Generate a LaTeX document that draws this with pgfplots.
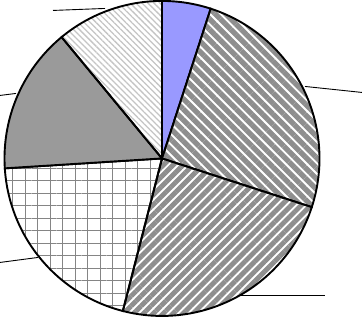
\documentclass[border=0pt]{standalone}
\usepackage{pgfplots}
\pgfplotsset{compat=1.18}
\usetikzlibrary{patterns.meta}
\definecolor{sliceblue}{HTML}{9999FF}
\definecolor{stripegray}{HTML}{8E8E8E}
\definecolor{solidgray}{HTML}{9A9A9A}
\definecolor{gridgray}{HTML}{858585}
\definecolor{lightgray2}{HTML}{C4C4C4}
% shares in percent, clockwise from 12 o'clock
\def\sA{5}\def\sB{25}\def\sC{24}\def\sD{20}\def\sE{15}\def\sF{11}
\begin{document}
\begin{tikzpicture}
\pgfmathsetmacro\aA{90}
\pgfmathsetmacro\aB{\aA-\sA*3.6}
\pgfmathsetmacro\aC{\aB-\sB*3.6}
\pgfmathsetmacro\aD{\aC-\sC*3.6}
\pgfmathsetmacro\aE{\aD-\sD*3.6}
\pgfmathsetmacro\aF{\aE-\sE*3.6}
\pgfmathsetmacro\aG{\aF-\sF*3.6}
\begin{axis}[hide axis, scale only axis, width=362bp, height=321bp,
  xmin=0, xmax=362, ymin=0, ymax=321, clip=true]
\def\cx{162}\def\cy{161}\def\R{157.5}
% slices
\addplot[draw=black, line width=1.9bp, fill=sliceblue, domain=\aB:\aA, samples=40, variable=\t]
  ({\cx+\R*cos(\t)}, {\cy+\R*sin(\t)}) -- (axis cs:\cx,\cy) -- cycle;
\addplot[draw=black, line width=1.9bp, fill=white, pattern={Lines[angle=-45, distance=7.5bp, line width=5.3bp]}, pattern color=stripegray, domain=\aC:\aB, samples=60, variable=\t]
  ({\cx+\R*cos(\t)}, {\cy+\R*sin(\t)}) -- (axis cs:\cx,\cy) -- cycle;
\addplot[draw=black, line width=1.9bp, fill=white, pattern={Lines[angle=45, distance=7bp, line width=4.9bp]}, pattern color=stripegray, domain=\aD:\aC, samples=60, variable=\t]
  ({\cx+\R*cos(\t)}, {\cy+\R*sin(\t)}) -- (axis cs:\cx,\cy) -- cycle;
\addplot[draw=black, line width=1.9bp, fill=white, pattern={Hatch[angle=0, distance=12.5bp, line width=0.9bp]}, pattern color=gridgray, domain=\aE:\aD, samples=60, variable=\t]
  ({\cx+\R*cos(\t)}, {\cy+\R*sin(\t)}) -- (axis cs:\cx,\cy) -- cycle;
\addplot[draw=black, line width=1.9bp, fill=solidgray, domain=\aF:\aE, samples=60, variable=\t]
  ({\cx+\R*cos(\t)}, {\cy+\R*sin(\t)}) -- (axis cs:\cx,\cy) -- cycle;
\addplot[draw=black, line width=1.9bp, fill=white, pattern={Lines[angle=-45, distance=4.2bp, line width=1.3bp]}, pattern color=lightgray2, domain=\aG:\aF, samples=40, variable=\t]
  ({\cx+\R*cos(\t)}, {\cy+\R*sin(\t)}) -- (axis cs:\cx,\cy) -- cycle;
% leader lines
\addplot[black, line width=0.9bp] coordinates {(305,233) (362,227) (380,226)};
\addplot[black, line width=0.9bp] coordinates {(240,24) (325,24)};
\addplot[black, line width=0.9bp] coordinates {(38,62) (0,57) (-10,56)};
\addplot[black, line width=0.9bp] coordinates {(16,226) (0,224) (-10,223)};
\addplot[black, line width=0.9bp] coordinates {(105,311) (53,309)};
\end{axis}
\end{tikzpicture}
\end{document}
